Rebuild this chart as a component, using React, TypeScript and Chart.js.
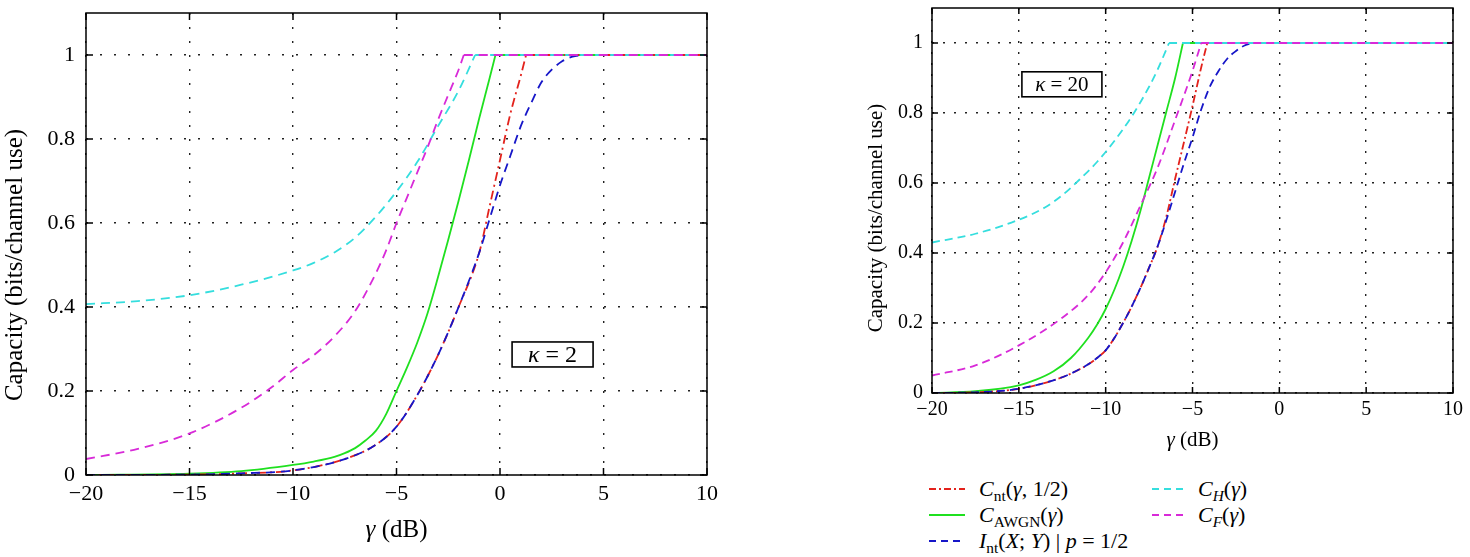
import React, { useEffect, useRef } from 'react';
import { Chart, registerables } from 'chart.js';

Chart.register(...registerables);

const FONT = '"Liberation Serif", "Times New Roman", serif';

// ---- axes ----
const X_TICKS = [-20, -15, -10, -5, 0, 5, 10];
const Y_TICKS = [0, 0.2, 0.4, 0.6, 0.8, 1];
const X_RANGE = [-20, 10];
const Y_RANGE = [0, 1.1];
const Y_TITLE = 'Capacity (bits/channel use)';
const X_TITLE_SYMBOL = 'γ';
const X_TITLE_UNIT = ' (dB)';
const KAPPA_SYMBOL = 'κ';

const SERIES_NAMES = ['Cnt(γ, 1/2)', 'CAWGN(γ)', 'Int(X; Y) | p = 1/2', 'CH(γ)', 'CF(γ)'];

// ---- κ = 2 panel ----
const K2_KAPPA = '2';
const K2_KAPPA_AT = [2.54, 0.287];

const K2_CNT_X = [-20, -15, -12.5, -10, -7.5, -6, -5, -4, -3, -2, -1, -0.5, 0, 0.5, 1, 1.26, 10];
const K2_CNT_Y = [0, 0.001, 0.004, 0.011, 0.038, 0.072, 0.115, 0.19, 0.285, 0.4, 0.53, 0.64, 0.75, 0.86, 0.95, 1, 1];

const K2_AWGN_X = [-20, -15, -12.5, -10, -9, -8, -7.5, -7, -6.5, -6, -5.5, -5, -4.5, -4, -3.5, -3, -2.5, -2, -1.5, -1, -0.5, -0.22, 10];
const K2_AWGN_Y = [0, 0.003, 0.009, 0.024, 0.032, 0.043, 0.052, 0.064, 0.082, 0.105, 0.145, 0.2, 0.255, 0.315, 0.385, 0.47, 0.56, 0.653, 0.75, 0.85, 0.945, 1, 1];

const K2_INT_X = [-20, -15, -12.5, -10, -7.5, -6, -5, -4, -3, -2, -1, -0.5, 0, 0.5, 1, 1.5, 2, 2.5, 3, 3.5, 4, 10];
const K2_INT_Y = [0, 0.001, 0.004, 0.011, 0.038, 0.072, 0.115, 0.19, 0.285, 0.4, 0.53, 0.61, 0.69, 0.76, 0.83, 0.885, 0.935, 0.965, 0.985, 0.996, 1, 1];

const K2_H_X = [-20, -17.5, -15, -12.5, -10, -9, -8, -7, -6, -5, -4, -3, -2, -1.2, 10];
const K2_H_Y = [0.407, 0.414, 0.428, 0.453, 0.487, 0.505, 0.53, 0.565, 0.615, 0.675, 0.745, 0.83, 0.915, 1, 1];

const K2_F_X = [-20, -17.5, -15, -12.5, -11, -10, -9, -8, -7, -6, -5.5, -5, -4.5, -4, -3.5, -3, -2.5, -2, -1.75, 10];
const K2_F_Y = [0.038, 0.062, 0.099, 0.16, 0.21, 0.25, 0.285, 0.33, 0.39, 0.48, 0.535, 0.6, 0.66, 0.72, 0.78, 0.845, 0.905, 0.965, 1, 1];

// ---- κ = 20 panel ----
const K20_KAPPA = '20';
const K20_KAPPA_AT = [-12.52, 0.882];

const K20_CNT_X = [-20, -17.5, -15, -12.5, -11.5, -11, -10.5, -10, -9.5, -9, -8.5, -8, -7.5, -7, -6.5, -6, -5.5, -5, -4.5, -4.15, 10];
const K20_CNT_Y = [0, 0.002, 0.012, 0.045, 0.068, 0.082, 0.1, 0.122, 0.157, 0.2, 0.247, 0.3, 0.358, 0.42, 0.505, 0.612, 0.715, 0.82, 0.93, 1, 1];

const K20_AWGN_X = [-20, -17.5, -15, -14, -13, -12, -11, -10.5, -10, -9.5, -9, -8.5, -8, -7.5, -7, -6.5, -6, -5.55, 10];
const K20_AWGN_Y = [0, 0.005, 0.022, 0.038, 0.062, 0.1, 0.158, 0.195, 0.24, 0.295, 0.36, 0.435, 0.52, 0.615, 0.71, 0.805, 0.9, 1, 1];

const K20_INT_X = [-20, -17.5, -15, -12.5, -11.5, -11, -10.5, -10, -9.5, -9, -8.5, -8, -7.5, -7, -6.5, -6, -5.5, -5, -4.5, -4, -3.5, -3, -2.5, -2, -1.55, 10];
const K20_INT_Y = [0, 0.002, 0.012, 0.045, 0.068, 0.082, 0.1, 0.122, 0.157, 0.2, 0.247, 0.3, 0.358, 0.42, 0.495, 0.575, 0.655, 0.73, 0.81, 0.875, 0.92, 0.955, 0.977, 0.993, 1, 1];

const K20_H_X = [-20, -17.5, -15, -13.5, -12.5, -11.5, -10.5, -9.5, -8.5, -7.5, -7, -6.35, 10];
const K20_H_Y = [0.43, 0.455, 0.495, 0.53, 0.565, 0.61, 0.66, 0.72, 0.79, 0.875, 0.925, 1, 1];

const K20_F_X = [-20, -17.5, -15, -12.5, -11, -10, -9, -8, -7, -6, -5, -4.5, 10];
const K20_F_Y = [0.05, 0.079, 0.136, 0.215, 0.28, 0.345, 0.43, 0.535, 0.645, 0.78, 0.92, 1, 1];

// ---- styles ----
const C_RED = '#e3221c';
const C_GREEN = '#1fe01f';
const C_BLUE = '#1616c8';
const C_CYAN = '#35dede';
const C_MAGENTA = '#d82ad8';

const LEFT_GEOM = {
  left: 0, top: 0, width: 740, height: 557,
  areaLeft: 86, areaRight: 707, areaTop: 13, areaBottom: 475,
  tickFont: 22, tickPadX: 6, tickPadY: 11, titleFont: 25, yTitleX: 15, xTitleY: 530,
  boxFont: 24, boxW: 81, boxH: 25, gridDash: [2, 12], dash: [9, 6], dashDot: [9, 4, 2, 4], tickLen: 7,
};
const RIGHT_GEOM = {
  left: 855, top: 0, width: 615, height: 470,
  areaLeft: 77, areaRight: 598, areaTop: 8, areaBottom: 393,
  tickFont: 20, tickPadX: 5, tickPadY: 9, titleFont: 21, yTitleX: 21, xTitleY: 440,
  boxFont: 21, boxW: 80, boxH: 25, gridDash: [2, 9], dash: [8, 5], dashDot: [8, 3, 2, 3], tickLen: 6,
};

type Part = { t: string; it?: boolean };

function drawRich(ctx: CanvasRenderingContext2D, parts: Part[], x: number, y: number, size: number) {
  const fonts = parts.map((p) => `${p.it ? 'italic ' : ''}${size}px ${FONT}`);
  let total = 0;
  const widths = parts.map((p, i) => {
    ctx.font = fonts[i];
    const w = ctx.measureText(p.t).width;
    total += w;
    return w;
  });
  let cx = x - total / 2;
  ctx.textAlign = 'left';
  ctx.textBaseline = 'middle';
  ctx.fillStyle = '#000';
  parts.forEach((p, i) => {
    ctx.font = fonts[i];
    ctx.fillText(p.t, cx, y);
    cx += widths[i];
  });
}

const framePlugin = {
  id: 'frame',
  afterDatasetsDraw(chart: any, _args: any, opts: any) {
    const { ctx, scales } = chart;
    const xs = scales.x;
    const ys = scales.y;
    const cx = xs.getPixelForValue(opts.boxAt[0]);
    const cy = ys.getPixelForValue(opts.boxAt[1]);
    ctx.save();
    ctx.fillStyle = '#fff';
    ctx.fillRect(cx - opts.boxW / 2, cy - opts.boxH / 2, opts.boxW, opts.boxH);
    ctx.strokeStyle = '#000';
    ctx.lineWidth = 1.6;
    ctx.strokeRect(cx - opts.boxW / 2, cy - opts.boxH / 2, opts.boxW, opts.boxH);
    drawRich(ctx, [{ t: KAPPA_SYMBOL, it: true }, { t: ' = ' + opts.boxText }], cx, cy + 1, opts.boxFont);
    ctx.restore();
  },
  afterDraw(chart: any, _args: any, opts: any) {
    const { ctx, chartArea: a, scales } = chart;
    const xs = scales.x;
    const ys = scales.y;
    ctx.save();
    ctx.strokeStyle = '#000';
    ctx.lineWidth = 1.5;
    ctx.strokeRect(a.left, a.top, a.right - a.left, a.bottom - a.top);
    ctx.beginPath();
    const tl = opts.tickLen;
    X_TICKS.forEach((v) => {
      const px = xs.getPixelForValue(v);
      ctx.moveTo(px, a.bottom);
      ctx.lineTo(px, a.bottom - tl);
      ctx.moveTo(px, a.top);
      ctx.lineTo(px, a.top + tl);
    });
    Y_TICKS.forEach((v) => {
      const py = ys.getPixelForValue(v);
      ctx.moveTo(a.left, py);
      ctx.lineTo(a.left + tl, py);
      ctx.moveTo(a.right, py);
      ctx.lineTo(a.right - tl, py);
    });
    ctx.stroke();
    ctx.save();
    ctx.translate(opts.yTitleX, ys.getPixelForValue(0.5));
    ctx.rotate(-Math.PI / 2);
    drawRich(ctx, [{ t: Y_TITLE }], 0, 0, opts.titleFont);
    ctx.restore();
    drawRich(ctx, [{ t: X_TITLE_SYMBOL, it: true }, { t: X_TITLE_UNIT }], (a.left + a.right) / 2, opts.xTitleY, opts.titleFont);
    ctx.restore();
  },
};

const fmt = (v: number) => (v < 0 ? '\u2212' + Math.abs(v) : String(v));

function pts(xs: number[], ys: number[]) {
  return xs.map((x, i) => ({ x, y: ys[i] }));
}

// split a series into its rising part (smooth) and the saturated part (straight)
function splitAtCeiling(xs: number[], ys: number[]) {
  const top = Math.max(...ys);
  const k = ys.indexOf(top);
  return [pts(xs.slice(0, k + 1), ys.slice(0, k + 1)), pts(xs.slice(k), ys.slice(k))];
}

function makeConfig(g: any, d: any, kappa: string, kappaAt: number[]) {
  const ds = (label: string, data: any, color: string, dash: number[], mono: boolean) => ({
    label,
    data,
    borderColor: color,
    borderWidth: 1.8,
    borderDash: dash,
    pointRadius: 0,
    fill: false,
    tension: 0,
    cubicInterpolationMode: mono ? 'monotone' : 'default',
  });
  const pair = (label: string, xs: number[], ys: number[], color: string, dash: number[]) => {
    const [rise, flat] = splitAtCeiling(xs, ys);
    return [ds(label, rise, color, dash, true), ds(label, flat, color, dash, false)];
  };
  return {
    type: 'line',
    data: {
      datasets: [
        ...pair(SERIES_NAMES[4], d.fx, d.fy, C_MAGENTA, g.dash),
        ...pair(SERIES_NAMES[3], d.hx, d.hy, C_CYAN, g.dash),
        ...pair(SERIES_NAMES[2], d.ix, d.iy, C_BLUE, g.dash),
        ...pair(SERIES_NAMES[0], d.cx, d.cy, C_RED, g.dashDot),
        ...pair(SERIES_NAMES[1], d.ax, d.ay, C_GREEN, []),
      ],
    },
    options: {
      responsive: false,
      animation: false,
      events: [],
      layout: { padding: { left: 0, top: g.areaTop, right: g.width - g.areaRight, bottom: 0 } },
      plugins: {
        legend: { display: false },
        tooltip: { enabled: false },
        frame: {
          boxAt: kappaAt, boxText: kappa, boxW: g.boxW, boxH: g.boxH, boxFont: g.boxFont,
          tickLen: g.tickLen, titleFont: g.titleFont, yTitleX: g.yTitleX, xTitleY: g.xTitleY,
        },
      },
      scales: {
        x: {
          type: 'linear',
          min: X_RANGE[0],
          max: X_RANGE[1],
          afterBuildTicks: (s: any) => { s.ticks = X_TICKS.map((v) => ({ value: v })); },
          afterFit: (s: any) => {
            s.height = g.height - g.areaBottom;
            s.paddingLeft = 0; s.paddingRight = 0; s.paddingTop = 0; s.paddingBottom = 0;
          },
          ticks: { padding: g.tickPadX, autoSkip: false, maxRotation: 0, color: '#000', font: { family: FONT, size: g.tickFont }, callback: (v: number) => fmt(v) },
          grid: { color: '#222', lineWidth: 1.4, drawTicks: false },
          border: { display: false, dash: g.gridDash },
        },
        y: {
          type: 'linear',
          min: Y_RANGE[0],
          max: Y_RANGE[1],
          afterBuildTicks: (s: any) => { s.ticks = Y_TICKS.map((v) => ({ value: v })); },
          afterFit: (s: any) => {
            s.width = g.areaLeft;
            s.paddingLeft = 0; s.paddingRight = 0; s.paddingTop = 0; s.paddingBottom = 0;
          },
          ticks: { padding: g.tickPadY, autoSkip: false, color: '#000', font: { family: FONT, size: g.tickFont }, callback: (v: number) => fmt(v) },
          grid: { color: '#222', lineWidth: 1.4, drawTicks: false },
          border: { display: false, dash: g.gridDash },
        },
      },
    },
    plugins: [framePlugin],
  };
}

const K2_DATA = {
  cx: K2_CNT_X, cy: K2_CNT_Y, ax: K2_AWGN_X, ay: K2_AWGN_Y, ix: K2_INT_X, iy: K2_INT_Y,
  hx: K2_H_X, hy: K2_H_Y, fx: K2_F_X, fy: K2_F_Y,
};
const K20_DATA = {
  cx: K20_CNT_X, cy: K20_CNT_Y, ax: K20_AWGN_X, ay: K20_AWGN_Y, ix: K20_INT_X, iy: K20_INT_Y,
  hx: K20_H_X, hy: K20_H_Y, fx: K20_F_X, fy: K20_F_Y,
};

function Panel({ g, d, kappa, kappaAt }: any) {
  const ref = useRef<HTMLCanvasElement>(null);
  useEffect(() => {
    const chart = new Chart(ref.current as HTMLCanvasElement, makeConfig(g, d, kappa, kappaAt) as any);
    return () => chart.destroy();
  }, []);
  return (
    <canvas
      ref={ref}
      width={g.width}
      height={g.height}
      style={{ position: 'absolute', left: g.left, top: g.top, width: g.width, height: g.height }}
    />
  );
}

const subStyle: React.CSSProperties = { fontSize: '0.7em', position: 'relative', top: '0.3em', lineHeight: 0 };

const LEGEND_ROWS_Y = [489, 515, 541];
const LEGEND_COLS = [
  { lineX: 929, lineW: 36, textX: 979 },
  { lineX: 1152, lineW: 35, textX: 1198 },
];

const LEGEND_ITEMS = [
  { col: 0, row: 0, color: C_RED, dash: '7 3 2 3', content: <><i>C</i><span style={subStyle}>nt</span>(<i>γ</i>, 1/2)</> },
  { col: 0, row: 1, color: C_GREEN, dash: 'none', content: <><i>C</i><span style={subStyle}>AWGN</span>(<i>γ</i>)</> },
  { col: 0, row: 2, color: C_BLUE, dash: '7 5', content: <><i>I</i><span style={subStyle}>nt</span>(<i>X</i>; <i>Y</i>) | <i>p</i> = 1/2</> },
  { col: 1, row: 0, color: C_CYAN, dash: '7 5', content: <><i>C</i><span style={subStyle}><i>H</i></span>(<i>γ</i>)</> },
  { col: 1, row: 1, color: C_MAGENTA, dash: '7 5', content: <><i>C</i><span style={subStyle}><i>F</i></span>(<i>γ</i>)</> },
];

function Legend() {
  return (
    <>
      {LEGEND_ITEMS.map((it, k) => {
        const c = LEGEND_COLS[it.col];
        const y = LEGEND_ROWS_Y[it.row];
        return (
          <React.Fragment key={k}>
            <svg width={c.lineW} height={10} style={{ position: 'absolute', left: c.lineX, top: y - 5 }}>
              <line x1={0} y1={5} x2={c.lineW} y2={5} stroke={it.color} strokeWidth={1.8} strokeDasharray={it.dash} />
            </svg>
            <div
              style={{
                position: 'absolute', left: c.textX, top: y - 14, height: 28, lineHeight: '28px',
                fontFamily: FONT, fontSize: 22, color: '#000', whiteSpace: 'nowrap',
              }}
            >
              {it.content}
            </div>
          </React.Fragment>
        );
      })}
    </>
  );
}

export default function App() {
  return (
    <div style={{ position: 'absolute', left: 0, top: 0, width: 1470, height: 557, background: '#fff', overflow: 'hidden' }}>
      <Panel g={LEFT_GEOM} d={K2_DATA} kappa={K2_KAPPA} kappaAt={K2_KAPPA_AT} />
      <Panel g={RIGHT_GEOM} d={K20_DATA} kappa={K20_KAPPA} kappaAt={K20_KAPPA_AT} />
      <Legend />
    </div>
  );
}
